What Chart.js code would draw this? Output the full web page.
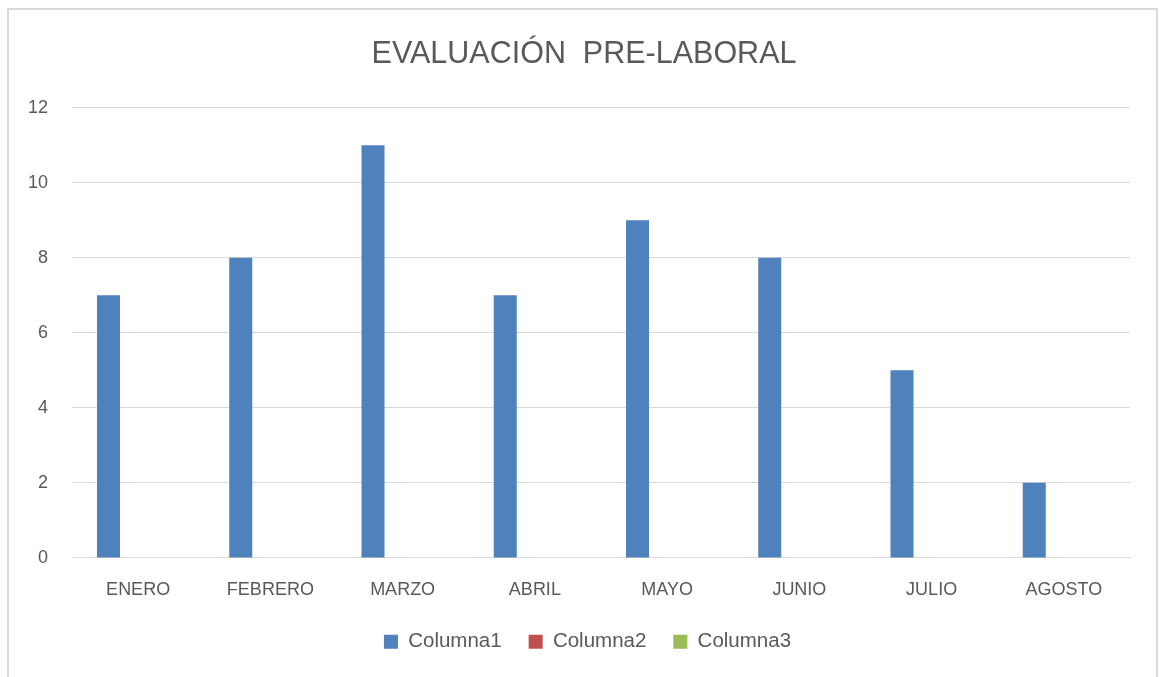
<!DOCTYPE html>
<html>
<head>
<meta charset="utf-8">
<script src="https://cdn.jsdelivr.net/npm/chart.js@4/dist/chart.umd.min.js"></script>
<style>
  html, body { margin: 0; padding: 0; background: #fff; }
  #frame { position: absolute; left: 7px; top: 8px; width: 1151px; height: 700px; border: 2px solid #d9d9d9; box-sizing: border-box; }
  #wrap { position: absolute; left: 0; top: 0; width: 1162px; height: 677px; }
</style>
</head>
<body>
<div id="frame"></div>
<div id="wrap"><canvas id="chart"></canvas></div>
<script>
// chart data
var months = ['ENERO', 'FEBRERO', 'MARZO', 'ABRIL', 'MAYO', 'JUNIO', 'JULIO', 'AGOSTO'];
var columna1 = [7, 8, 11, 7, 9, 8, 5, 2];
var columna2 = [null, null, null, null, null, null, null, null];
var columna3 = [null, null, null, null, null, null, null, null];
var yTicks = [0, 2, 4, 6, 8, 10, 12];

var textColor = '#595959';
var fontFamily = '"Liberation Sans", Arial, sans-serif';

function makeSeries(label, values, color)
{
	return {
		label: label,
		data: values,
		backgroundColor: color,
		borderWidth: 0,
		categoryPercentage: 0.672,
		barPercentage: 0.777
	};
}

// shift title and legend boxes a bit to the right, like the original
var boxShift = {
	id: 'boxShift',
	afterLayout: function(chart) {
		if(chart.titleBlock)
			chart.titleBlock.left = 38;
		if(chart.legend)
			chart.legend.left = 45;
	}
};

new Chart(document.getElementById('chart'), {
	type: 'bar',
	data: {
		labels: months,
		datasets: [
			makeSeries('Columna1', columna1, '#4F81BD'),
			makeSeries('Columna2', columna2, '#C0504D'),
			makeSeries('Columna3', columna3, '#9BBB59')
		]
	},
	plugins: [boxShift],
	options: {
		responsive: true,
		maintainAspectRatio: false,
		animation: false,
		layout: { padding: { left: 0, right: 32, top: 0, bottom: 15 } },
		plugins: {
			title: {
				display: true,
				text: 'EVALUACIÓN  PRE-LABORAL',
				color: textColor,
				font: { family: fontFamily, size: 30.5, weight: 'normal' },
				padding: { top: 36, bottom: 35 }
			},
			legend: {
				position: 'bottom',
				labels: {
					color: textColor,
					font: { family: fontFamily, size: 20.5 },
					boxWidth: 14,
					boxHeight: 14,
					padding: 27
				}
			},
			tooltip: { enabled: false }
		},
		scales: {
			x: {
				afterFit: function(scale) { scale.height = scale.height - 9; },
				grid: { display: false },
				border: { color: '#d9d9d9', width: 1 },
				ticks: { color: textColor, font: { family: fontFamily, size: 18 }, padding: 13 }
			},
			y: {
				min: 0,
				max: 12,
				afterFit: function(scale) { scale.width = 72; },
				afterBuildTicks: function(scale) { scale.ticks = yTicks.map(function(v) { return { value: v }; }); },
				grid: { color: '#d9d9d9', lineWidth: 1, drawTicks: false },
				border: { display: false },
				ticks: { color: textColor, font: { family: fontFamily, size: 18 }, padding: 24 }
			}
		}
	}
});
</script>
</body>
</html>
